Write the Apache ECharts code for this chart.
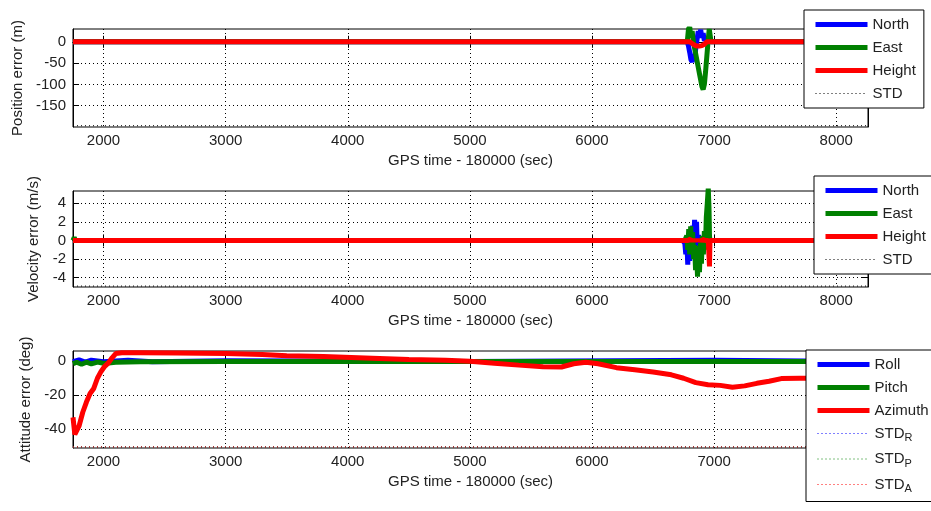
<!DOCTYPE html>
<html lang="en">
  <head>
    <meta charset="UTF-8" />
    <title>Navigation errors</title>
    <script src="https://cdn.jsdelivr.net/npm/echarts@6.0.0/dist/echarts.min.js"></script>
    <style>
      html, body { margin: 0; padding: 0; background: #fff; }
      #chart { width: 931px; height: 511px; }
    </style>
  </head>
  <body>
    <div id="chart"></div>
    <script>
      // x ticks shared by the three panels
      var xTicks = [2000, 3000, 4000, 5000, 6000, 7000, 8000];

      // position error (m)
      var posTime   = [1750, 6780, 6790, 6800, 6810, 6820, 6830, 6840, 6850, 6860, 6870, 6880, 6890, 6900, 6910, 6920, 6930, 6940, 6950, 6960, 6975, 8260];
      var posNorth  = [0, 0, -10, -25, -42, -47, -35, -40, -15, 5, 25, 15, 28, 10, 20, 2, 8, 0, 0, 0, 0, 0];
      var posEast   = [0, 0, 30, 35, 10, 25, 0, -15, -30, -45, -60, -75, -90, -105, -112, -100, -70, -35, 0, 30, 0, 0];
      var posHeight = [0, 0, 0, 0, -2, -4, -6, -8, -9, -10, -10, -10, -10, -9, -8, -6, -3, 0, 0, 0, 0, 0];
      var posStd    = [-197, -197];
      var posTicks  = [-150, -100, -50, 0];

      // velocity error (m/s)
      var velTime   = [1750, 1760, 1770, 6740, 6760, 6768, 6776, 6784, 6792, 6800, 6808, 6816, 6824, 6832, 6840, 6848, 6856, 6864, 6872, 6880, 6888, 6896, 6904, 6912, 6920, 6928, 6936, 6944, 6952, 6958, 6962, 6966, 6975, 8260];
      var velNorth  = [0, 0, 0, 0, -0.3, -1.5, 0.3, -2.6, 0.5, -2.2, 0.8, -1.0, 1.6, -0.5, 2.2, -0.4, 2.0, -1.8, 0.6, -2.0, 0.2, -1.4, 0.3, -0.6, 0.2, 0, 0, 0, 0, 0, 0, 0, 0, 0];
      var velEast   = [0, 0.3, 0, 0, 0, 0, 0.5, -1.0, 1.2, -1.5, 1.5, -0.8, 0.9, -2.0, -0.5, -3.2, -1.0, -3.9, -0.6, -3.4, -0.3, -2.5, 0.5, -1.5, 1.0, -1.0, 2.5, 4.0, 5.6, 3.5, 0.5, 0, 0, 0];
      var velHeight = [0, 0, 0, 0, 0, 0, 0, 0, 0, 0, 0.15, -0.15, 0.15, -0.15, 0.15, -0.15, 0.15, -0.15, 0.15, -0.15, 0.15, -0.15, 0.1, 0, 0, 0, 0, 0, 0, 0, -2.8, 0, 0, 0];
      var velStd    = [-4.9, -4.9];
      var velTicks  = [-4, -2, 0, 2, 4];

      // attitude error (deg)
      var attTime  = [1750, 1765, 1780, 1800, 1830, 1860, 1890, 1920, 1950, 1980, 2010, 2040, 2070, 2100, 2150, 2300, 2600, 3000, 3300, 3500, 3800, 4200, 4500, 4800, 5000, 5200, 5400, 5600, 5750, 5850, 5950, 6050, 6200, 6350, 6500, 6650, 6750, 6850, 6950, 7050, 7150, 7250, 7350, 7450, 7550, 7700, 8260];
      var attAzim  = [-33, -43, -42, -38, -30, -24, -19, -16, -10, -6, -3, -1, 2, 4.5, 5, 5, 4.8, 4.5, 4, 3.2, 2.8, 1.8, 1.0, 0.5, 0, -1.2, -2.3, -3.2, -3.4, -1.5, -0.6, -1.5, -3.8, -5, -6.3, -8, -10, -12.6, -13.8, -14.2, -15.3, -14.5, -13, -11.8, -10.2, -10, -10];
      var attRollTime  = [1750, 1800, 1850, 1900, 2000, 2200, 2400, 3000, 5000, 7000, 8260];
      var attRoll      = [-0.3, 0.8, -0.5, 0.6, -0.3, 0.5, -0.3, 0.3, -0.2, 0.5, -0.2];
      var attPitchTime = [1750, 1780, 1820, 1860, 1900, 1950, 2000, 2100, 2300, 3000, 5000, 8260];
      var attPitch     = [-1.5, -0.6, -1.8, -0.6, -1.6, -0.5, -1.3, -0.6, -0.3, -0.2, -0.1, -0.1];
      var attStd   = [-50.4, -50.4];
      var attTicks = [-40, -20, 0];

      var stdTime = [1750, 8260];

      var colors = {
        North: '#0000ff', East: '#008000', Height: '#ff0000', STD: '#000',
        Roll: '#0000ff', Pitch: '#008000', Azimuth: '#ff0000',
        STD_R: '#0000ff', STD_P: '#008000', STD_A: '#ff0000'
      };

      function pairs(t, v) {
        return t.map(function (x, i) { return [x, v[i]]; });
      }

      var font = 'Liberation Sans, Arial, sans-serif';
      var grids = [
        { left: 73, top: 29, width: 795, height: 98 },
        { left: 73, top: 191, width: 795, height: 96 },
        { left: 73, top: 351, width: 795, height: 97 }
      ];
      grids.forEach(function (g) {
        g.show = true;
        g.borderColor = '#000';
        g.borderWidth = 1;
        g.backgroundColor = '#fff';
      });

      var xAxes = [], yAxes = [];
      var yInfo = [
        { min: -200, max: 30, ticks: posTicks, name: 'Position error (m)', gap: 45 },
        { min: -5, max: 5.3, ticks: velTicks, name: 'Velocity error (m/s)', gap: 30 },
        { min: -51, max: 6, ticks: attTicks, name: 'Attitude error (deg)', gap: 36 }
      ];
      var dotted = { color: '#000', width: 1, type: [1, 3] };
      var plain = function (v) { return String(v); };

      for (var i = 0; i < 3; i++) {
        xAxes.push({
          type: 'value', gridIndex: i, min: 1750, max: 8260, position: 'bottom',
          name: 'GPS time - 180000 (sec)', nameLocation: 'middle', nameGap: 26,
          nameTextStyle: { fontSize: 15, color: '#222', fontFamily: font },
          axisLine: { show: true, lineStyle: { color: '#000' } },
          axisTick: { show: true, inside: true, length: 6, customValues: xTicks, lineStyle: { color: '#000' } },
          axisLabel: { show: true, customValues: xTicks, formatter: plain, margin: 6, fontSize: 15, color: '#222', fontFamily: font },
          splitLine: { show: true, lineStyle: dotted }
        });
        xAxes.push({
          type: 'value', gridIndex: i, min: 1750, max: 8260, position: 'top',
          axisLine: { show: true, lineStyle: { color: '#000' } },
          axisTick: { show: true, inside: true, length: 6, customValues: xTicks, lineStyle: { color: '#000' } },
          axisLabel: { show: false },
          splitLine: { show: false }
        });
        var y = yInfo[i];
        yAxes.push({
          type: 'value', gridIndex: i, min: y.min, max: y.max, position: 'left',
          name: y.name, nameLocation: 'middle', nameGap: y.gap,
          nameTextStyle: { fontSize: 15, color: '#222', fontFamily: font },
          axisLine: { show: true, lineStyle: { color: '#000' } },
          axisTick: { show: true, inside: true, length: 6, customValues: y.ticks, lineStyle: { color: '#000' } },
          axisLabel: { show: true, customValues: y.ticks, formatter: plain, margin: 7, fontSize: 15, color: '#222', fontFamily: font },
          splitLine: { show: true, lineStyle: dotted }
        });
        yAxes.push({
          type: 'value', gridIndex: i, min: y.min, max: y.max, position: 'right',
          axisLine: { show: true, lineStyle: { color: '#000' } },
          axisTick: { show: true, inside: true, length: 6, customValues: y.ticks, lineStyle: { color: '#000' } },
          axisLabel: { show: false },
          splitLine: { show: false }
        });
      }

      function thick(name, panel, data) {
        return {
          name: name, type: 'line', xAxisIndex: panel * 2, yAxisIndex: panel * 2,
          data: data, symbol: 'none', showSymbol: false, animation: false,
          lineStyle: { color: colors[name], width: 5 }, itemStyle: { color: colors[name] }
        };
      }
      function std(name, panel, data) {
        return {
          name: name, type: 'line', xAxisIndex: panel * 2, yAxisIndex: panel * 2,
          data: data, symbol: 'none', showSymbol: false, animation: false,
          lineStyle: { color: colors[name], width: 1, type: [1, 3] }, itemStyle: { color: colors[name] }
        };
      }

      var series = [
        thick('North', 0, pairs(posTime, posNorth)),
        thick('East', 0, pairs(posTime, posEast)),
        thick('Height', 0, pairs(posTime, posHeight)),
        std('STD', 0, pairs(stdTime, posStd)),
        thick('North', 1, pairs(velTime, velNorth)),
        thick('East', 1, pairs(velTime, velEast)),
        thick('Height', 1, pairs(velTime, velHeight)),
        std('STD', 1, pairs(stdTime, velStd)),
        std('STD_R', 2, pairs(stdTime, attStd)),
        std('STD_P', 2, pairs(stdTime, attStd)),
        std('STD_A', 2, pairs(stdTime, attStd)),
        thick('Roll', 2, pairs(attRollTime, attRoll)),
        thick('Pitch', 2, pairs(attPitchTime, attPitch)),
        thick('Azimuth', 2, pairs(attTime, attAzim))
      ];

      function legendItems(names) {
        return names.map(function (n) {
          var isStd = n.indexOf('STD') === 0;
          return {
            name: n,
            lineStyle: isStd
              ? { color: colors[n], width: 1, type: [1, 3] }
              : { color: colors[n], width: 5, type: 'solid' },
            itemStyle: { opacity: 0, borderWidth: 0 }
          };
        });
      }
      function legend(left, top, names) {
        return {
          left: left, top: top, orient: 'vertical',
          data: legendItems(names),
          itemWidth: 52, itemHeight: 14, itemGap: 8,
          selectedMode: false,
          backgroundColor: '#fff', borderColor: '#000', borderWidth: 1,
          padding: [7, 8, 7, 9], borderRadius: 0,
          textStyle: {
            fontSize: 15, color: '#222', fontFamily: font,
            rich: {
              m: { fontSize: 15, color: '#222', fontFamily: font },
              s: { fontSize: 11, color: '#222', fontFamily: font, padding: [9, 0, 0, 0] }
            }
          },
          formatter: function (name) {
            if (name.indexOf('STD_') === 0) return '{m|STD}{s|' + name.slice(4) + '}';
            return name;
          }
        };
      }

      var chart = echarts.init(document.getElementById('chart'), null, { renderer: 'canvas' });
      chart.setOption({
        backgroundColor: '#fff',
        animation: false,
        textStyle: { fontFamily: font },
        grid: grids,
        xAxis: xAxes,
        yAxis: yAxes,
        legend: [
          legend(804, 10, ['North', 'East', 'Height', 'STD']),
          legend(814, 176, ['North', 'East', 'Height', 'STD']),
          legend(806, 350, ['Roll', 'Pitch', 'Azimuth', 'STD_R', 'STD_P', 'STD_A'])
        ],
        series: series
      });
    </script>
  </body>
</html>
